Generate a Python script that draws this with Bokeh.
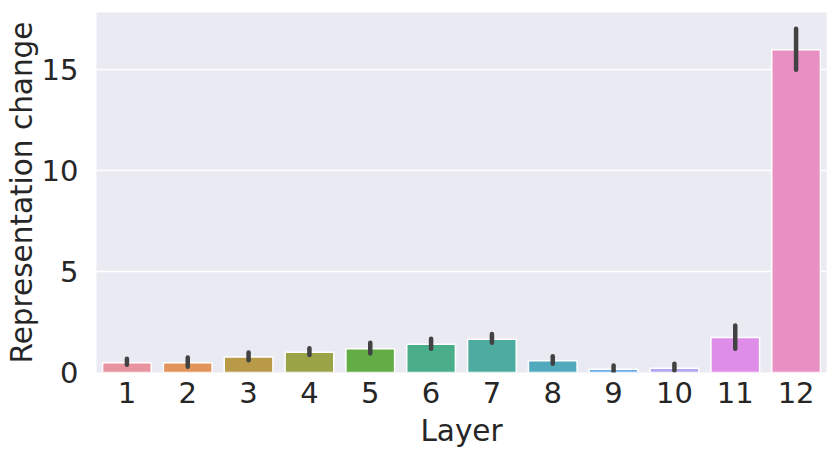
from bokeh.plotting import figure
from bokeh.models import ColumnDataSource, FactorRange, Range1d, FixedTicker
from bokeh.embed import file_html
from bokeh.resources import INLINE

layers = ["1", "2", "3", "4", "5", "6", "7", "8", "9", "10", "11", "12"]
means = [0.48, 0.48, 0.77, 1.0, 1.17, 1.4, 1.65, 0.58, 0.16, 0.21, 1.73, 15.96]
err_low = [0.38, 0.28, 0.60, 0.87, 0.94, 1.17, 1.47, 0.43, 0.06, 0.10, 1.17, 14.97]
err_high = [0.68, 0.74, 0.99, 1.20, 1.47, 1.67, 1.90, 0.80, 0.35, 0.43, 2.33, 17.0]
colors = ["#e8939f", "#e1955a", "#b99a48", "#9ba347", "#62ad46", "#4aae8a",
          "#4dab9f", "#50a9bd", "#6aace6", "#b4a6ee", "#de8ee9", "#e88fc4"]
y_ticks = [0, 5, 10, 15]

src = ColumnDataSource(dict(x=layers, top=means, lo=err_low, hi=err_high, color=colors))

p = figure(x_range=FactorRange(*layers, range_padding=0), y_range=Range1d(0, 17.8),
           frame_width=730, frame_height=360, output_backend="svg", toolbar_location=None,
           min_border_left=96, min_border_right=5, min_border_top=12, min_border_bottom=86)
p.background_fill_color = "#eaeaf2"
p.border_fill_color = "white"
p.outline_line_color = None

p.vbar(x="x", top="top", width=0.8, source=src, fill_color="color",
       line_color="white", line_width=1.5)
p.segment(x0="x", x1="x", y0="lo", y1="hi", source=src, line_color="#424242",
          line_width=4.5, line_cap="round")

p.xgrid.grid_line_color = None
p.ygrid.grid_line_color = "white"
p.ygrid.grid_line_width = 1.3
p.yaxis.ticker = FixedTicker(ticks=y_ticks)

for ax in (p.xaxis[0], p.yaxis[0]):
    ax.axis_line_color = None
    ax.major_tick_line_color = None
    ax.minor_tick_line_color = None
    ax.major_label_text_font = "DejaVu Sans"
    ax.major_label_text_font_size = "29px"
    ax.major_label_text_color = "#262626"
    ax.axis_label_text_font = "DejaVu Sans"
    ax.axis_label_text_font_size = "29.5px"
    ax.axis_label_text_font_style = "normal"
    ax.axis_label_text_color = "#262626"

p.xaxis.axis_label = "Layer"
p.yaxis.axis_label = "Representation change"
p.xaxis.major_label_standoff = 3
p.yaxis.major_label_standoff = 12
p.xaxis.axis_label_standoff = 8
p.yaxis.axis_label_standoff = 0

open("out.html", "w").write(file_html(p, INLINE))
